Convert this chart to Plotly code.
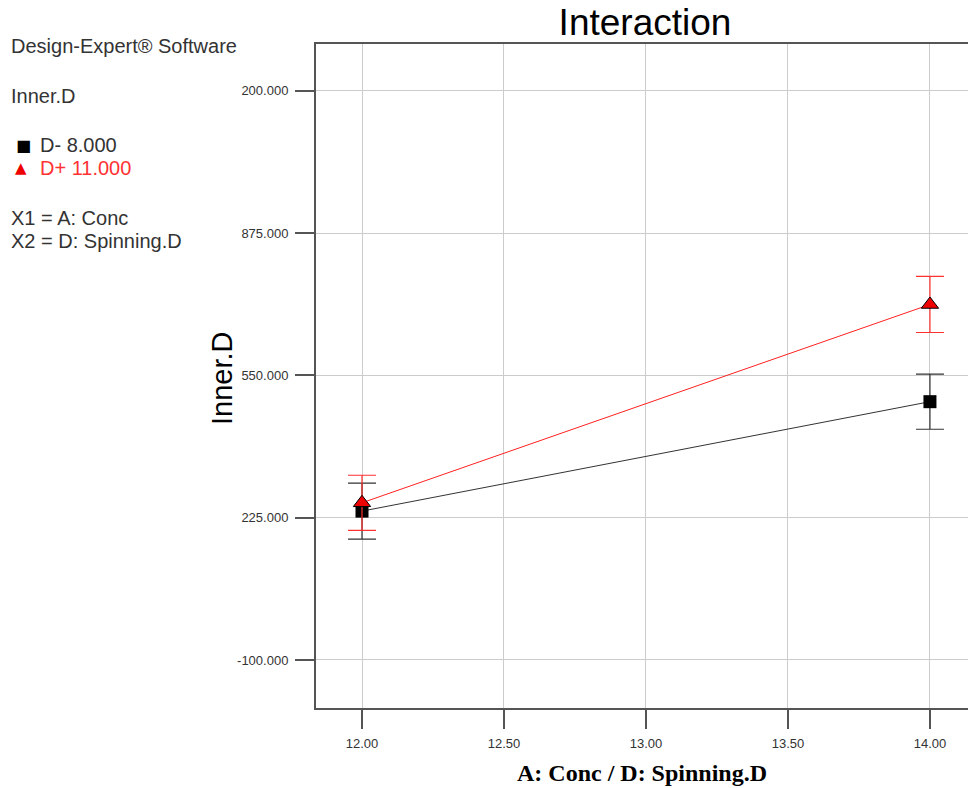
import plotly.graph_objects as go

# Data
conc = [12.0, 14.0]
d_minus = [240, 490]          # D- 8.000
d_minus_err = [64, 63]
d_plus = [259, 712]           # D+ 11.000
d_plus_err = [63, 64]

y_tickvals = [-100, 225, 550, 875, 1200]
y_ticktext = ["-100.000", "225.000", "550.000", "875.000", "200.000"]
x_tickvals = [12.0, 12.5, 13.0, 13.5, 14.0]
x_ticktext = ["12.00", "12.50", "13.00", "13.50", "14.00"]

fig = go.Figure()

fig.add_trace(go.Scatter(
    x=conc, y=d_minus, name="D- 8.000", mode="lines+markers",
    line=dict(color="#333333", width=1),
    marker=dict(symbol="square", size=13, color="black"),
    error_y=dict(type="data", array=d_minus_err, color="#333333", thickness=1.2, width=14),
    showlegend=False,
))
fig.add_trace(go.Scatter(
    x=conc, y=d_plus, name="D+ 11.000", mode="lines+markers",
    line=dict(color="#ff2020", width=1),
    marker=dict(symbol="triangle-up", size=15, color="#ee0000",
                line=dict(color="black", width=1)),
    error_y=dict(type="data", array=d_plus_err, color="#ff3030", thickness=1.2, width=14),
    showlegend=False,
))

font_main = "Liberation Sans, Arial, sans-serif"

# body margin is removed via post_script, so figure pixels == screen pixels
W, H = 968, 788
L, T, R, B = 316, 44, 0, 80
PW, PH = W - L - R, H - T - B

def px(xs):
    return (xs - L) / PW

def py(ys):
    return 1 - (ys - T) / PH

fig.update_layout(
    width=W, height=H,
    margin=dict(l=L, r=R, t=T, b=B),
    paper_bgcolor="white", plot_bgcolor="white",
    font=dict(family=font_main, color="#333333"),
    title=dict(text="Interaction", x=645 / W, xanchor="center",
               y=1 - 22 / H, yanchor="middle",
               font=dict(size=37, color="black", family=font_main)),
    xaxis=dict(
        range=[11.838, 14.134], tickvals=x_tickvals, ticktext=x_ticktext,
        showgrid=True, gridcolor="#cccccc", gridwidth=1,
        showline=True, linecolor="#555555", linewidth=2, mirror=True,
        ticks="outside", ticklen=19, tickcolor="#555555", tickwidth=2,
        tickfont=dict(size=13, color="#333333"), zeroline=False,
        ticklabelstandoff=3,
        title=dict(text="<b>A: Conc / D: Spinning.D</b>",
                   font=dict(family="Liberation Serif, Times New Roman, serif", size=24, color="black"),
                   standoff=15),
    ),
    yaxis=dict(
        range=[-209.7, 1307], tickvals=y_tickvals, ticktext=y_ticktext,
        showgrid=True, gridcolor="#cccccc", gridwidth=1,
        showline=True, linecolor="#555555", linewidth=2,
        ticks="outside", ticklen=19, tickcolor="#555555", tickwidth=2,
        tickfont=dict(size=13, color="#333333"), zeroline=False,
        ticklabelstandoff=4,
    ),
)

# y-axis title placed precisely
fig.add_annotation(text="Inner.D", xref="paper", yref="paper",
                   x=px(222), y=py(378), textangle=-90,
                   xanchor="center", yanchor="middle", showarrow=False,
                   font=dict(size=29, color="black", family=font_main))

# Left-side info panel
left_texts = [
    ("Design-Expert® Software", 46),
    ("Inner.D", 96),
    ("X1 = A: Conc", 218),
    ("X2 = D: Spinning.D", 241),
]
for txt, ypx in left_texts:
    fig.add_annotation(text=txt, xref="paper", yref="paper",
                       x=px(9), y=py(ypx),
                       xanchor="left", yanchor="middle", showarrow=False,
                       font=dict(size=20, color="#333333", family=font_main))

# Legend entries
fig.add_annotation(text="■", xref="paper", yref="paper",
                   x=px(14), y=py(145),
                   xanchor="left", yanchor="middle", showarrow=False,
                   font=dict(size=16, color="black", family="DejaVu Sans"))
fig.add_annotation(text="D- 8.000", xref="paper", yref="paper",
                   x=px(38), y=py(145),
                   xanchor="left", yanchor="middle", showarrow=False,
                   font=dict(size=20, color="#333333", family=font_main))
fig.add_annotation(text="▲", xref="paper", yref="paper",
                   x=px(13), y=py(168),
                   xanchor="left", yanchor="middle", showarrow=False,
                   font=dict(size=15, color="#ee0000", family="DejaVu Sans"))
fig.add_annotation(text="D+ 11.000", xref="paper", yref="paper",
                   x=px(38), y=py(168),
                   xanchor="left", yanchor="middle", showarrow=False,
                   font=dict(size=20, color="#ff3333", family=font_main))

fig.write_html("out.html",
               config={"displayModeBar": False},
               post_script="document.body.style.margin='0';document.body.style.overflow='hidden';")
